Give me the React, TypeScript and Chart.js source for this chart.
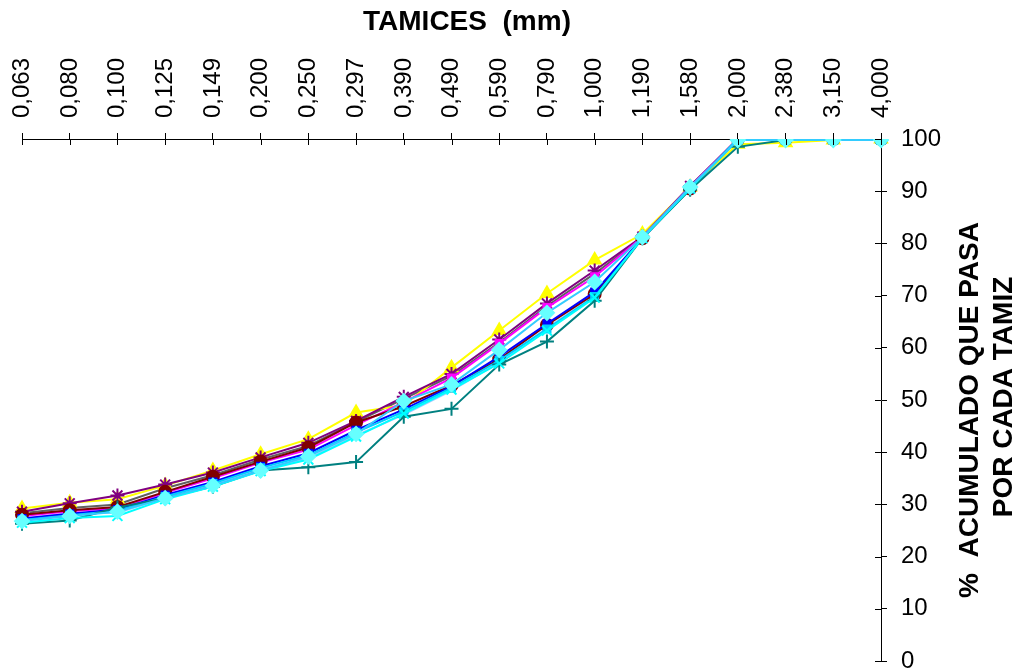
import React, { useEffect, useRef } from "react";
import { Chart, registerables } from "chart.js";

Chart.register(...registerables);

const categories = ["0,063", "0,080", "0,100", "0,125", "0,149", "0,200", "0,250", "0,297", "0,390", "0,490", "0,590", "0,790", "1,000", "1,190", "1,580", "2,000", "2,380", "3,150", "4,000"];

const yellowSeries = [29.2, 30.3, 31.0, 33.6, 36.5, 39.6, 42.5, 47.6, 49.0, 56.2, 63.3, 70.4, 76.8, 81.8, 90.8, 99.0, 99.3, 99.8, 100];
const purpleSeries = [28.6, 30.2, 31.7, 33.8, 36.1, 39.0, 41.8, 46.0, 50.6, 55.0, 61.6, 68.5, 74.8, 81.3, 91.0, 100, 100, 100, 100];
const graySeries = [28.3, 29.3, 30.0, 33.1, 35.6, 38.6, 41.2, 45.8, 50.2, 54.6, 61.0, 68.0, 74.2, 81.2, 90.8, 100, 100, 100, 100];
const darkRedSeries = [28.0, 28.9, 29.5, 32.4, 35.3, 38.2, 40.9, 45.7, 48.8, 52.8, 57.8, 64.4, 70.3, 81.0, 90.5, 100, 100, 100, 100];
const magentaSeries = [27.8, 28.7, 29.3, 32.2, 35.0, 38.0, 40.5, 45.2, 49.6, 54.2, 60.8, 67.7, 73.6, 81.2, 90.8, 100, 100, 100, 100];
const blueSeries = [27.3, 28.2, 29.0, 31.8, 34.3, 37.3, 39.8, 44.2, 48.2, 52.6, 58.3, 64.6, 70.7, 81.0, 90.5, 100, 100, 100, 100];
const skyBlueSeries = [27.0, 27.9, 28.8, 31.5, 34.0, 37.0, 39.4, 43.8, 47.8, 52.3, 57.6, 63.6, 69.8, 81.0, 90.5, 99.8, 99.8, 99.8, 99.8];
const lightBlueSeries = [27.2, 28.3, 28.4, 31.2, 33.7, 36.7, 38.8, 43.2, 47.2, 51.8, 57.2, 63.8, 69.9, 81.0, 90.4, 99.8, 99.8, 99.8, 99.8];
const cyanSeries = [26.5, 27.4, 27.8, 31.0, 33.4, 36.4, 38.6, 43.0, 47.4, 52.0, 57.0, 63.3, 69.6, 81.0, 90.5, 100, 100, 100, 100];
const tealSeries = [26.3, 26.9, 29.4, 31.2, 33.4, 36.5, 37.1, 38.1, 46.8, 48.3, 56.8, 61.2, 69.0, 81.0, 90.3, 98.5, 99.8, 99.8, 100];
const aquaSeries = [26.8, 27.8, 28.6, 31.2, 33.6, 36.5, 39.2, 43.5, 49.8, 53.0, 59.6, 66.7, 72.6, 81.2, 90.8, 99.8, 99.8, 99.8, 99.8];

const yTicks = [0, 10, 20, 30, 40, 50, 60, 70, 80, 90, 100];

const xTitle = "TAMICES  (mm)";
const yTitleLines = ["%  ACUMULADO QUE PASA", "POR CADA TAMIZ"];

const FONT = "'Liberation Sans', Arial, sans-serif";

function ds(label: string, data: number[], color: string, style: any, fill: string, radius: number) {
  return {
    label,
    data,
    borderColor: color,
    backgroundColor: fill,
    borderWidth: 2,
    pointStyle: style,
    pointRadius: radius,
    pointBackgroundColor: fill,
    pointBorderColor: fill,
    pointBorderWidth: 2,
    tension: 0,
  };
}

const decorPlugin = {
  id: "decor",
  afterDraw(chart: any) {
    const ctx = chart.ctx;
    const xs = chart.scales.x;
    const ys = chart.scales.y;
    const area = chart.chartArea;
    ctx.save();
    ctx.strokeStyle = "#000";
    ctx.lineWidth = 1;
    ctx.beginPath();
    xs.ticks.forEach((_t: any, i: number) => {
      const px = Math.round(xs.getPixelForTick(i)) + 0.5;
      ctx.moveTo(px, area.top);
      ctx.lineTo(px, area.top + 6);
    });
    ys.ticks.forEach((_t: any, i: number) => {
      const py = Math.round(ys.getPixelForTick(i)) + 0.5;
      ctx.moveTo(area.right - 6, py);
      ctx.lineTo(area.right, py);
    });
    ctx.stroke();

    ctx.fillStyle = "#000";
    ctx.font = "bold 28px " + FONT;
    ctx.textAlign = "center";
    ctx.textBaseline = "middle";
    ctx.fillText(xTitle, 467, 22);

    ctx.save();
    ctx.translate(970, 410);
    ctx.rotate(-Math.PI / 2);
    ctx.fillText(yTitleLines[0], 0, 0);
    ctx.restore();
    ctx.save();
    ctx.translate(1004, 397);
    ctx.rotate(-Math.PI / 2);
    ctx.fillText(yTitleLines[1], 0, 0);
    ctx.restore();
    ctx.restore();
  },
};

export default function App() {
  const ref = useRef<HTMLCanvasElement | null>(null);
  useEffect(() => {
    document.body.style.margin = "0";
    const canvas = ref.current;
    if (!canvas) return;
    const chart = new Chart(canvas, {
      type: "line",
      data: {
        labels: categories,
        // dataset 0 is drawn on top in Chart.js
        datasets: [
          ds("S11", aquaSeries, "#33CCFF", "rectRot", "#66FFFF", 7),
          ds("S10", cyanSeries, "#00FFFF", "crossRot", "#00FFFF", 7),
          ds("S9", tealSeries, "#008080", "cross", "#008080", 7),
          ds("S8", skyBlueSeries, "#00CCFF", "rect", "#00CCFF", 5),
          ds("S7", blueSeries, "#0000FF", "rect", "#0000FF", 5),
          ds("S6", darkRedSeries, "#800000", "circle", "#800000", 6),
          ds("S5", magentaSeries, "#FF00FF", "rect", "#FF00FF", 5),
          ds("S4", purpleSeries, "#800080", "star", "#800080", 7),
          ds("S3", yellowSeries, "#FFFF00", "triangle", "#FFFF00", 7),
          ds("S2", lightBlueSeries, "#99CCFF", "rect", "#99CCFF", 0),
          ds("S1", graySeries, "#606060", "rect", "#606060", 0),
        ],
      },
      options: {
        responsive: false,
        animation: false,
        layout: { padding: { left: 22, right: 0, top: 0, bottom: 8 } },
        plugins: { legend: { display: false }, tooltip: { enabled: false }, title: { display: false } },
        scales: {
          x: {
            type: "category",
            position: "top",
            offset: false,
            grid: { display: true, drawOnChartArea: false, drawTicks: true, tickLength: 6, color: "#000", lineWidth: 1 },
            border: { display: true, color: "#000", width: 1 },
            ticks: {
              autoSkip: false,
              minRotation: 90,
              maxRotation: 90,
              padding: 15,
              labelOffset: 29,
              color: "#000",
              font: { size: 24, family: FONT },
            },
            afterFit: (s: any) => {
              s.height = 139;
              s.paddingLeft = 0;
              s.paddingRight = 0;
            },
          },
          y: {
            position: "right",
            min: 0,
            max: 100,
            afterBuildTicks: (s: any) => {
              s.ticks = yTicks.map((v) => ({ value: v }));
            },
            grid: { display: true, drawOnChartArea: false, drawTicks: true, tickLength: 6, color: "#000", lineWidth: 1 },
            border: { display: true, color: "#000", width: 1 },
            ticks: {
              padding: 14,
              color: "#000",
              font: { size: 24, family: FONT },
            },
            afterFit: (s: any) => {
              s.width = 141;
              s.paddingTop = 0;
              s.paddingBottom = 0;
            },
          },
        },
      },
      plugins: [decorPlugin],
    });
    return () => chart.destroy();
  }, []);
  return <canvas ref={ref} width={1022} height={670} style={{ display: "block" }} />;
}
